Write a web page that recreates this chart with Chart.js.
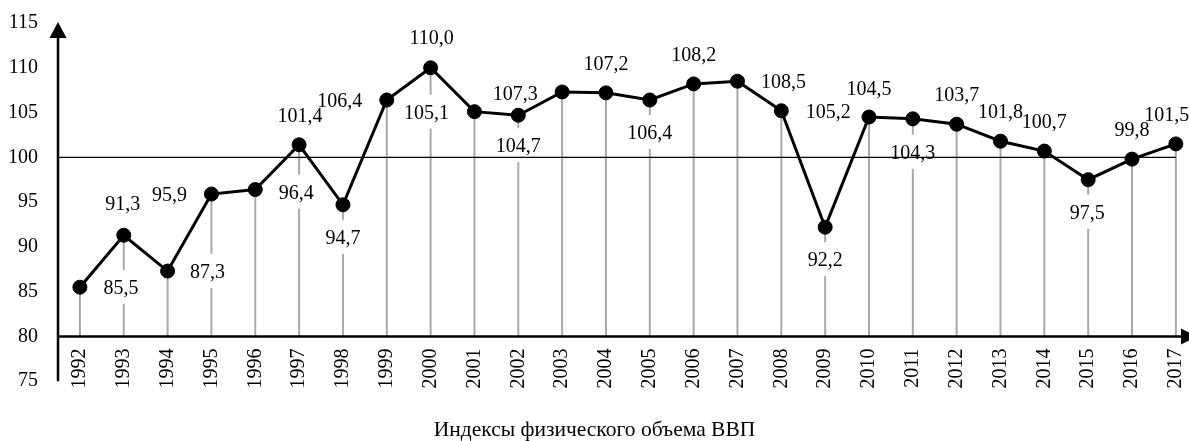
<!DOCTYPE html>
<html>
<head>
<meta charset="utf-8">
<script src="https://cdn.jsdelivr.net/npm/chart.js@4"></script>
<style>
  html, body { margin: 0; padding: 0; background: #fff; }
  #wrap { width: 1189px; height: 441px; position: relative; }
</style>
</head>
<body>
<div id="wrap"><canvas id="gdpChart"></canvas></div>
<script>
// годы и индексы физического объема ВВП, % к предыдущему году
var years = [1992, 1993, 1994, 1995, 1996, 1997, 1998, 1999, 2000, 2001, 2002, 2003, 2004,
             2005, 2006, 2007, 2008, 2009, 2010, 2011, 2012, 2013, 2014, 2015, 2016, 2017];
var values = [85.5, 91.3, 87.3, 95.9, 96.4, 101.4, 94.7, 106.4, 110.0, 105.1, 104.7, 107.3, 107.2,
              106.4, 108.2, 108.5, 105.2, 92.2, 104.5, 104.3, 103.7, 101.8, 100.7, 97.5, 99.8, 101.5];
var chartTitle = 'Индексы физического объема ВВП';

// сдвиг подписи от точки, px
var labelShift = [[41,0],[-1,-32],[40,0],[-42,0],[41,2],[1,-30],[0,32],[-47,0],[1,-31],[-48,0],
                  [0,30],[-47,1],[0,-30],[0,32],[0,-30],[46,0],[47,0],[0,32],[0,-29],[0,33],
                  [0,-30],[0,-30],[0,-30],[-1,32],[0,-30],[-9,-30]];

var serif = '"Liberation Serif", "Times New Roman", serif';
Chart.defaults.font.family = serif;
Chart.defaults.font.size = 20;
Chart.defaults.color = '#000';

function fmt(v) {
  return v.toFixed(1).replace('.', ',');
}

var points = years.map(function (yr, i) { return { x: yr, y: values[i] }; });

var markup = {
  id: 'markup',
  beforeDatasetsDraw: function (chart) {
    var ctx = chart.ctx, area = chart.chartArea;
    var xs = chart.scales.x, ys = chart.scales.y;
    var base = ys.getPixelForValue(80);
    var meta = chart.getDatasetMeta(0);
    ctx.save();

    // вертикальные линии от точек до оси
    ctx.strokeStyle = '#a8a8a8';
    ctx.lineWidth = 2;
    meta.data.forEach(function (pt) {
      ctx.beginPath();
      ctx.moveTo(pt.x, pt.y);
      ctx.lineTo(pt.x, base);
      ctx.stroke();
    });

    // белая подложка под подписи
    ctx.font = '20px ' + serif;
    ctx.fillStyle = '#fff';
    meta.data.forEach(function (pt, i) {
      var w = ctx.measureText(fmt(values[i])).width;
      var cx = pt.x + labelShift[i][0], cy = pt.y + labelShift[i][1];
      ctx.fillRect(cx - w / 2 - 3, cy - 17, w + 6, 34);
    });

    // линия 100
    var y100 = ys.getPixelForValue(100);
    ctx.strokeStyle = '#000';
    ctx.lineWidth = 1.3;
    ctx.beginPath();
    ctx.moveTo(area.left, y100);
    ctx.lineTo(xs.getPixelForValue(years[years.length - 1]), y100);
    ctx.stroke();

    // оси со стрелками
    ctx.lineWidth = 2.5;
    ctx.fillStyle = '#000';
    ctx.beginPath();
    ctx.moveTo(area.left, area.bottom);
    ctx.lineTo(area.left, area.top + 14);
    ctx.stroke();
    ctx.beginPath();
    ctx.moveTo(area.left, area.top - 1);
    ctx.lineTo(area.left - 8.5, area.top + 15);
    ctx.lineTo(area.left + 8.5, area.top + 15);
    ctx.closePath();
    ctx.fill();

    ctx.beginPath();
    ctx.moveTo(area.left, base);
    ctx.lineTo(area.right - 6, base);
    ctx.stroke();
    ctx.beginPath();
    ctx.moveTo(area.right + 8, base);
    ctx.lineTo(area.right - 8, base - 8);
    ctx.lineTo(area.right - 8, base + 8);
    ctx.closePath();
    ctx.fill();

    ctx.restore();
  },
  afterDatasetsDraw: function (chart) {
    var ctx = chart.ctx;
    var meta = chart.getDatasetMeta(0);
    ctx.save();
    ctx.font = '20px ' + serif;
    ctx.fillStyle = '#000';
    ctx.textAlign = 'center';
    ctx.textBaseline = 'alphabetic';
    meta.data.forEach(function (pt, i) {
      ctx.fillText(fmt(values[i]), pt.x + labelShift[i][0], pt.y + labelShift[i][1] + 7);
    });
    ctx.restore();
  }
};

var ctx = document.getElementById('gdpChart').getContext('2d');
var gdpChart = new Chart(ctx, {
  type: 'line',
  data: {
    datasets: [{
      data: points,
      borderColor: '#000',
      borderWidth: 3,
      pointRadius: 7,
      pointBackgroundColor: '#000',
      pointBorderColor: '#000',
      pointBorderWidth: 1,
      tension: 0,
      clip: false
    }]
  },
  options: {
    responsive: true,
    maintainAspectRatio: false,
    animation: false,
    layout: { autoPadding: false, padding: { top: 23, right: 0, bottom: 0, left: 0 } },
    plugins: {
      legend: { display: false },
      tooltip: { enabled: false },
      title: {
        display: true,
        position: 'bottom',
        text: chartTitle,
        color: '#000',
        font: { family: serif, size: 21.5, weight: 'normal' },
        padding: { top: 36, bottom: -2 }
      }
    },
    scales: {
      x: {
        type: 'linear',
        position: { y: 80 },
        min: 1991.5,
        max: 2017.3,
        grid: { display: false, drawTicks: false },
        border: { display: false },
        afterBuildTicks: function (scale) {
          scale.ticks = years.map(function (yr) { return { value: yr }; });
        },
        afterFit: function (scale) {
          scale.paddingLeft = 0;
          scale.paddingRight = 0;
        },
        ticks: {
          autoSkip: false,
          minRotation: 90,
          maxRotation: 90,
          padding: 12,
          callback: function (v) { return String(v); }
        }
      },
      y: {
        min: 75,
        max: 115,
        grid: { display: false, drawTicks: false },
        border: { display: false },
        afterFit: function (scale) {
          scale.width = 58;
          scale.paddingTop = 0;
          scale.paddingBottom = 0;
        },
        ticks: { stepSize: 5, padding: 20 }
      }
    }
  },
  plugins: [markup]
});
</script>
</body>
</html>
